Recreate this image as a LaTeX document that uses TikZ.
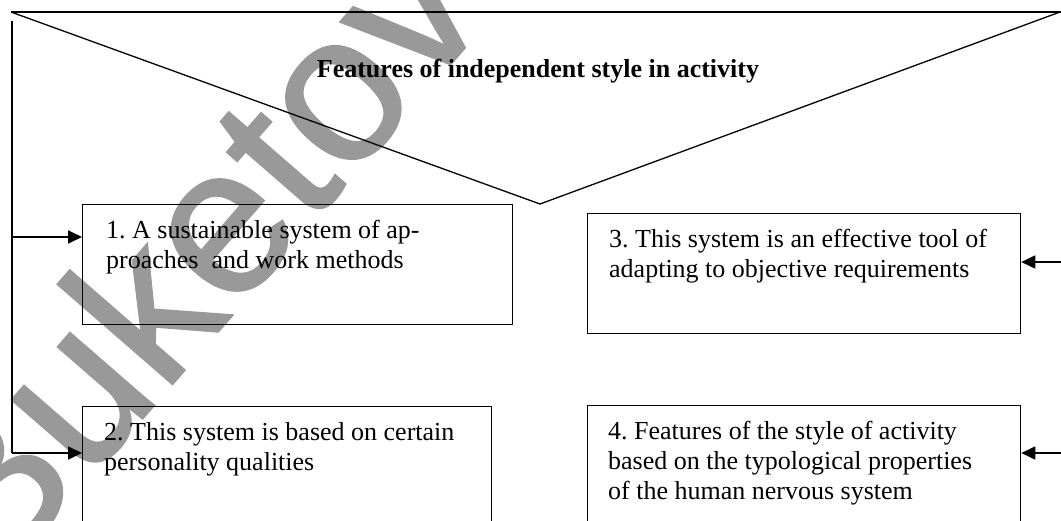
\documentclass[tikz,border=0pt]{standalone}
\usepackage{fontspec}
\setmainfont{Liberation Serif}
\newfontfamily\wmfont[FakeBold=1]{Liberation Sans}
\usetikzlibrary{arrows.meta}
\begin{document}
\frenchspacing
\begin{tikzpicture}[x=1pt,y=-1pt,
  thin line/.style={line width=1.3pt},
  boxnode/.style={draw, line width=1.3pt, anchor=north west, inner sep=0pt},
  txt/.style={anchor=north west, inner sep=0pt, align=left, font=\fontsize{26}{30}\selectfont},
  arr/.style={line width=1.8pt, -{Triangle[length=14pt,width=13pt]}},
  watermark/.style={rotate=49, font=\wmfont\fontsize{210}{210}\selectfont, text=black!40, inner sep=0pt}
]
\useasboundingbox (0,0) rectangle (1061,520);
% watermark
\node[watermark] (wm) at (187,253) {Buketov};
% header triangle
\coordinate (TL) at (11,12);
\coordinate (TR) at (1061,12);
\coordinate (apex) at (540,204);
\coordinate (TRd) at (1060,12);
\draw[thin line] (TL) -- (TR);
\draw[thin line] (TL) -- (apex) -- (TRd);
\node[font=\bfseries\fontsize{26}{30}\selectfont, anchor=base, inner sep=0pt] (title) at (538,77) {Features of independent style in activity};
% boxes
\node[boxnode, minimum width=430pt, minimum height=120pt] (b1) at (82,204) {};
\node[boxnode, minimum width=409pt, minimum height=130pt] (b2) at (82,406) {};
\node[boxnode, minimum width=433pt, minimum height=120pt] (b3) at (587,213) {};
\node[boxnode, minimum width=433pt, minimum height=130pt] (b4) at (587,405) {};
% texts
\node[txt] (t1) at (106,217) {\strut 1. A sustainable system of ap-\\proaches\ \ and work methods};
\node[txt] (t2) at (104,419) {\strut 2. This system is based on certain\\personality qualities};
\node[txt] (t3) at (609,226) {\strut 3. This system is an effective tool of\\adapting to objective requirements};
\node[txt] (t4) at (608,418) {\strut 4. Features of the style of activity\\based on the typological properties\\of the human nervous system};
% connectors
\coordinate (Ltop) at (12,21);
\coordinate (L1) at (12,237);
\coordinate (L2) at (12,453);
\coordinate (R3) at (1061,262);
\coordinate (R4) at (1061,453);
\draw[thin line] (Ltop) -- (L2);
\draw[arr] (L1) -- (L1 -| b1.west);
\draw[arr] (L2) -- (L2 -| b2.west);
\draw[arr] (R3) -- (R3 -| b3.east);
\draw[arr] (R4) -- (R4 -| b4.east);
\end{tikzpicture}
\end{document}
